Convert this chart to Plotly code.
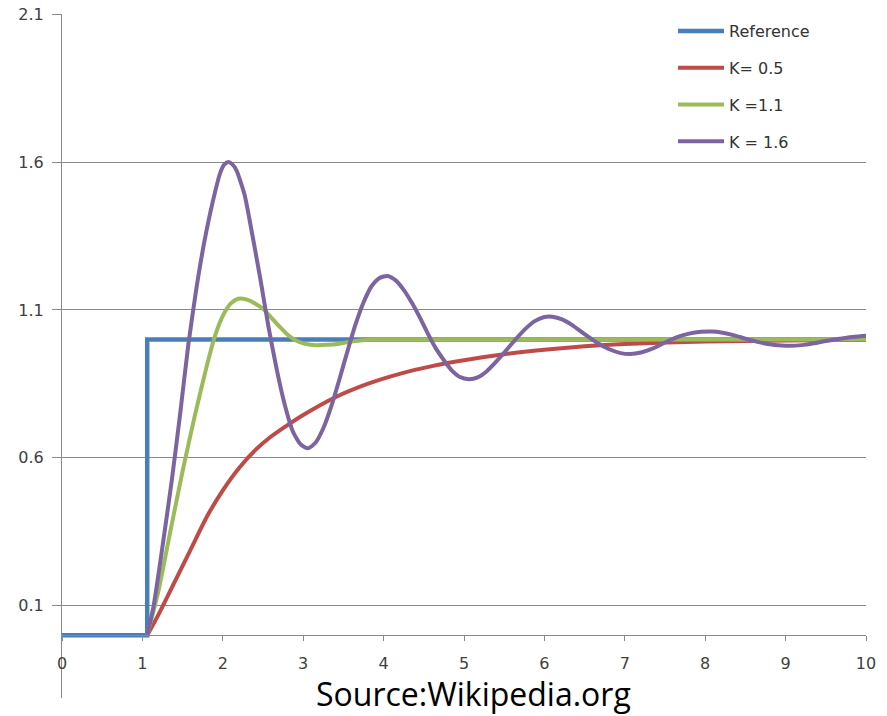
import plotly.graph_objects as go

# ---------------- data ----------------
ref_x = [0, 1.06, 1.06, 10]
ref_y = [0, 0, 1.0, 1.0]

k05_x = [1.06, 1.2, 1.4, 1.6, 1.8, 2.0, 2.2, 2.4, 2.6, 2.8, 3.0, 3.4, 3.8, 4.2, 4.6,
         5.0, 5.5, 6.0, 6.5, 7.0, 8.0, 9.0, 10.0]
k05_y = [0.0, 0.07, 0.18, 0.29, 0.40, 0.49, 0.565, 0.625, 0.672, 0.71, 0.745, 0.805, 0.850, 0.884, 0.910,
         0.930, 0.950, 0.965, 0.977, 0.985, 0.993, 0.997, 0.999]

k11_x = [1.06, 1.2, 1.35, 1.5, 1.65, 1.8, 1.9, 2.0, 2.1, 2.19, 2.3, 2.4, 2.5, 2.6, 2.7, 2.8,
         2.9, 3.0, 3.15, 3.3, 3.45, 3.6, 3.8, 4.0, 5.0, 6.0, 7.0, 8.0, 9.0, 10.0]
k11_y = [0.0, 0.15, 0.355, 0.555, 0.74, 0.91, 1.01, 1.08, 1.122, 1.138, 1.135, 1.122, 1.104, 1.075, 1.045, 1.018,
         0.998, 0.987, 0.981, 0.982, 0.986, 0.993, 0.999, 1.0, 1.0, 1.0, 1.0, 1.0, 1.0, 1.0]

k16_x = [1.06, 1.14, 1.25, 1.366, 1.47, 1.57, 1.67, 1.77, 1.87, 1.97, 2.02, 2.07, 2.12, 2.17, 2.27,
         2.37, 2.47, 2.57, 2.67, 2.77, 2.87, 2.97, 3.06, 3.15, 3.25, 3.35, 3.45, 3.55, 3.65, 3.75,
         3.85, 3.95, 4.05, 4.15, 4.25, 4.35, 4.45, 4.55, 4.65, 4.75, 4.85, 4.95, 5.06, 5.17, 5.28,
         5.4, 5.52, 5.64, 5.76, 5.88, 6.0, 6.1, 6.22, 6.35, 6.5, 6.65, 6.8, 6.95, 7.07, 7.2,
         7.35, 7.5, 7.65, 7.8, 7.95, 8.08, 8.2, 8.35, 8.5, 8.65, 8.8, 8.95, 9.05, 9.2, 9.35,
         9.5, 9.65, 9.8, 10.0]
k16_y = [0.0, 0.10, 0.30, 0.525, 0.75, 0.98, 1.17, 1.33, 1.46, 1.565, 1.592, 1.600, 1.592, 1.572, 1.49,
         1.35, 1.20, 1.04, 0.90, 0.78, 0.69, 0.645, 0.632, 0.65, 0.70, 0.775, 0.865, 0.96, 1.05, 1.125,
         1.18, 1.208, 1.215, 1.20, 1.168, 1.125, 1.075, 1.02, 0.97, 0.93, 0.895, 0.873, 0.866, 0.872, 0.892,
         0.925, 0.962, 1.0, 1.035, 1.062, 1.076, 1.077, 1.068, 1.048, 1.018, 0.99, 0.968, 0.954, 0.951, 0.956,
         0.97, 0.99, 1.008, 1.02, 1.026, 1.027, 1.024, 1.015, 1.003, 0.992, 0.984, 0.98, 0.979, 0.981, 0.987,
         0.995, 1.002, 1.008, 1.013]

series_names = ["Reference", "K= 0.5", "K =1.1", "K = 1.6"]
series_colors = ["#4A7EBB", "#BE4B48", "#9BBB59", "#7B64A0"]

x_ticks = list(range(0, 11))
y_ticks = [0.1, 0.6, 1.1, 1.6, 2.1]
y_ticktext = ["0.1", "0.6", "1.1", "1.6", "2.1"]

source_text = "Source:Wikipedia.org"

# ---------------- figure ----------------
ymin, ymax = -0.212, 2.1005
grid_col = "#8A8A8A"
tick_font = dict(family="DejaVu Sans", size=16, color="#404040")

fig = go.Figure()
data = [(ref_x, ref_y, "linear"), (k05_x, k05_y, "spline"),
        (k11_x, k11_y, "spline"), (k16_x, k16_y, "spline")]
for i, ((xs, ys, shp), name, col) in enumerate(zip(data, series_names, series_colors)):
    fig.add_trace(go.Scatter(
        x=xs, y=ys, name=name, mode="lines",
        line=dict(color=col, width=4.5 if i == 0 else 4, shape=shp, smoothing=0.6),
        legendgroup=f"g{i}",
    ))

fig.update_layout(
    width=887, height=716,
    margin=dict(l=62, r=21, t=14, b=18, autoexpand=False),
    plot_bgcolor="white", paper_bgcolor="white",
    showlegend=True,
    legend=dict(
        x=(673 - 62) / 804, y=1.0, xanchor="left", yanchor="top",
        font=dict(family="DejaVu Sans", size=16, color="#333333"),
        bgcolor="rgba(255,255,255,0)", traceorder="grouped", tracegroupgap=13,
        itemwidth=46,
    ),
    xaxis=dict(
        range=[0, 10], tickvals=x_ticks, ticktext=[str(v) for v in x_ticks],
        anchor="free", position=(0 - ymin) / (ymax - ymin), automargin=False,
        showline=True, linecolor=grid_col, linewidth=1,
        ticks="outside", ticklen=5, tickcolor=grid_col, tickwidth=1,
        showgrid=False, zeroline=False, tickfont=tick_font, ticklabelstandoff=9,
    ),
    yaxis=dict(
        range=[ymin, ymax], tickvals=y_ticks, ticktext=y_ticktext, automargin=False,
        showline=True, linecolor=grid_col, linewidth=1,
        ticks="outside", ticklen=9, tickcolor=grid_col, tickwidth=1,
        showgrid=True, gridcolor=grid_col, gridwidth=1, zeroline=False,
        tickfont=tick_font, ticklabelstandoff=5,
    ),
    annotations=[dict(
        text=source_text, xref="paper", yref="paper",
        x=(473 - 62) / 804, y=0, xanchor="center", yanchor="bottom", yshift=-18,
        showarrow=False, borderpad=0,
        font=dict(family="Open Sans", size=32, color="black"),
    )],
)

fig.write_html("out.html", config={"displayModeBar": False},
               post_script="document.body.style.margin='0';")
